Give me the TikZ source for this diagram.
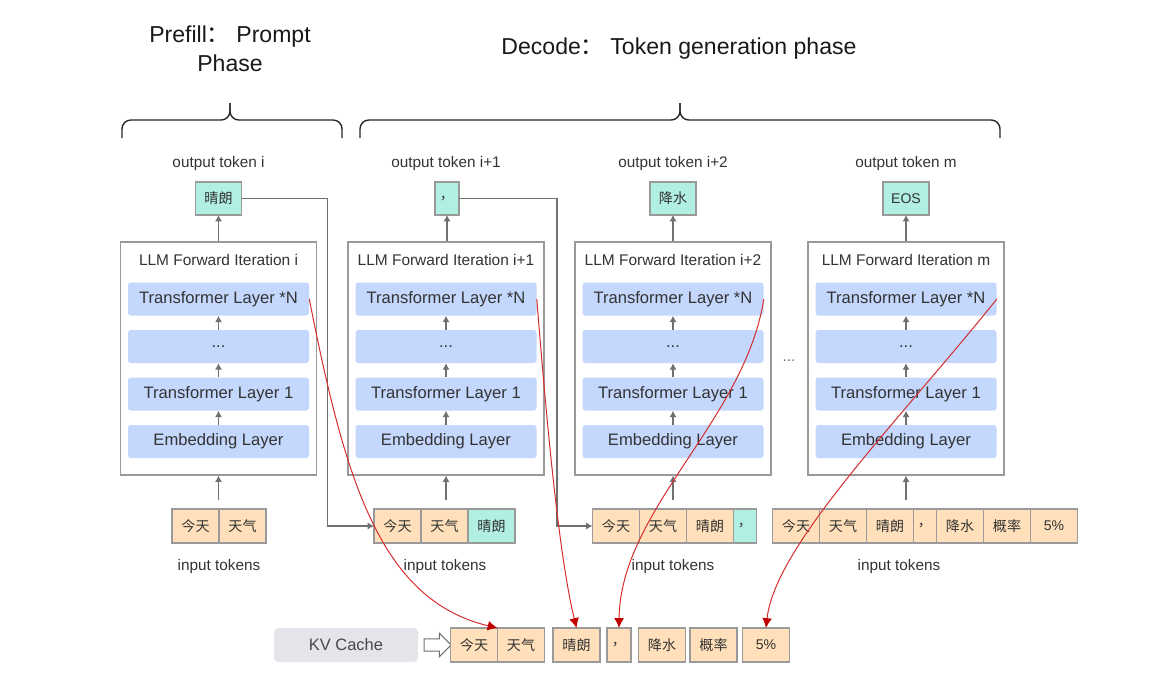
\documentclass[tikz,border=0pt]{standalone}
\usepackage{fontspec}
\setmainfont{Liberation Sans}
\newfontfamily\cjk{Noto Sans CJK SC}
\usepackage{xcolor}
\usepackage{tikz}
\usetikzlibrary{shapes,arrows,arrows.meta,positioning,calc}
\definecolor{tokorange}{HTML}{FFE0BA}
\definecolor{tokteal}{HTML}{B1EFE3}
\definecolor{layerblue}{HTML}{C4D7FD}
\definecolor{cachegray}{HTML}{E4E5EA}
\definecolor{linegray}{HTML}{9A9A9A}
\definecolor{arrowgray}{HTML}{707070}
\definecolor{textgray}{HTML}{333333}
\definecolor{kvred}{HTML}{D62B2B}
\definecolor{kvheadred}{HTML}{C00000}
\newcommand{\zh}[1]{{\cjk #1}}

\begin{document}
\begin{tikzpicture}[
    phase_text/.style={align=center, font=\fontsize{16.4}{20.6}\selectfont, text=black!90},
    phase_brace/.style={draw=black!85, line width=1pt, rounded corners=0.22cm},
    iter_box/.style={draw=linegray, fill=white, line width=0.8pt, minimum width=4.9cm, minimum height=5.825cm},
    iter_title/.style={font=\fontsize{11}{13}\selectfont, text=textgray},
    layer_box/.style={fill=layerblue, rounded corners=2pt, minimum width=4.525cm, minimum height=0.825cm, font=\fontsize{11.8}{14}\selectfont, text=textgray},
    tok/.style={draw=linegray, fill=tokorange, line width=0.9pt, minimum width=1.175cm, minimum height=0.85cm, inner sep=0pt, outer sep=0pt, font=\fontsize{10}{12}\selectfont, text=textgray},
    tok_new/.style={tok, fill=tokteal},
    out_box/.style={tok, fill=tokteal, minimum width=1.15cm, minimum height=0.825cm},
    small_text/.style={font=\fontsize{10.9}{13}\selectfont, text=textgray},
    cache_box/.style={fill=cachegray, rounded corners=3pt, minimum width=3.6cm, minimum height=0.85cm, font=\fontsize{11.7}{14}\selectfont, text=textgray!90},
    hollow_arrow/.style={single arrow, draw=arrowgray, fill=white, line width=0.8pt, inner sep=0pt, text height=0.14cm, text depth=0.14cm, minimum height=0.675cm, single arrow head extend=0.14cm},
    up_arrow/.style={-{Latex[length=4.5pt,width=5pt]}, draw=arrowgray, line width=0.8pt},
    kv_arrow/.style={-{Latex[length=7pt,width=7pt,color=kvheadred]}, draw=kvred, line width=0.7pt}
]
    \useasboundingbox (0,0) rectangle (29.05,-17.25);

    % Phases
    \node[phase_text] (prefill) at (5.75,-1.2125) {Prefill\zh{：} Prompt\\Phase};
    \node[phase_text] (decode) at (16.975,-1.225) {Decode\zh{：} Token generation phase};
    \draw[phase_brace] (3.05,-3.45) |- (5.75,-3.0) -- (5.75,-2.575);
    \draw[phase_brace] (8.55,-3.45) |- (5.75,-3.0) -- (5.75,-2.575);
    \draw[phase_brace] (9.0,-3.45) |- (17.0,-3.0) -- (17.0,-2.575);
    \draw[phase_brace] (25.0,-3.45) |- (17.0,-3.0) -- (17.0,-2.575);

    % Iteration i
    \node[iter_box] (iter1) at (5.4625,-8.9625) {};
    \node[iter_title] (title1) at (5.4625,-6.5) {LLM Forward Iteration i};
    \node[layer_box] (tln1) at (5.4625,-7.475) {Transformer Layer *N};
    \node[layer_box] (dots1) at (5.4625,-8.6625) {...};
    \node[layer_box] (tlone1) at (5.4625,-9.85) {Transformer Layer 1};
    \node[layer_box] (emb1) at (5.4625,-11.0375) {Embedding Layer};
    \node[out_box] (out1) at (5.4625,-4.9625) {\zh{晴朗}};
    \node[small_text] (outlbl1) at (5.4625,-4.0875) {output token i};
    \node[tok] (in1a) at (4.8875,-13.15) {\zh{今天}};
    \node[tok, right=0pt of in1a] (in1b) {\zh{天气}};
    \node[small_text] (inlbl1) at (5.475,-14.175) {input tokens};

    % Iteration i+1
    \node[iter_box] (iter2) at (11.15,-8.9625) {};
    \node[iter_title] (title2) at (11.15,-6.5) {LLM Forward Iteration i+1};
    \node[layer_box] (tln2) at (11.15,-7.475) {Transformer Layer *N};
    \node[layer_box] (dots2) at (11.15,-8.6625) {...};
    \node[layer_box] (tlone2) at (11.15,-9.85) {Transformer Layer 1};
    \node[layer_box] (emb2) at (11.15,-11.0375) {Embedding Layer};
    \node[out_box, minimum width=0.6cm] (out2) at (11.175,-4.9625) {\zh{，}};
    \node[small_text] (outlbl2) at (11.15,-4.0875) {output token i+1};
    \node[tok] (in2a) at (9.9375,-13.15) {\zh{今天}};
    \node[tok, right=0pt of in2a] (in2b) {\zh{天气}};
    \node[tok_new, right=0pt of in2b] (in2c) {\zh{晴朗}};
    \node[small_text] (inlbl2) at (11.125,-14.175) {input tokens};

    % Iteration i+2
    \node[iter_box] (iter3) at (16.825,-8.9625) {};
    \node[iter_title] (title3) at (16.825,-6.5) {LLM Forward Iteration i+2};
    \node[layer_box] (tln3) at (16.825,-7.475) {Transformer Layer *N};
    \node[layer_box] (dots3) at (16.825,-8.6625) {...};
    \node[layer_box] (tlone3) at (16.825,-9.85) {Transformer Layer 1};
    \node[layer_box] (emb3) at (16.825,-11.0375) {Embedding Layer};
    \node[out_box] (out3) at (16.825,-4.9625) {\zh{降水}};
    \node[small_text] (outlbl3) at (16.825,-4.0875) {output token i+2};
    \node[tok] (in3a) at (15.4,-13.15) {\zh{今天}};
    \node[tok, right=0pt of in3a] (in3b) {\zh{天气}};
    \node[tok, right=0pt of in3b] (in3c) {\zh{晴朗}};
    \node[tok_new, minimum width=0.575cm, right=0pt of in3c] (in3d) {\zh{，}};
    \node[small_text] (inlbl3) at (16.825,-14.175) {input tokens};

    \node[small_text, text=arrowgray] (gapdots) at (19.725,-9.025) {...};

    % Iteration m
    \node[iter_box] (iter4) at (22.65,-8.9625) {};
    \node[iter_title] (title4) at (22.65,-6.5) {LLM Forward Iteration m};
    \node[layer_box] (tln4) at (22.65,-7.475) {Transformer Layer *N};
    \node[layer_box] (dots4) at (22.65,-8.6625) {...};
    \node[layer_box] (tlone4) at (22.65,-9.85) {Transformer Layer 1};
    \node[layer_box] (emb4) at (22.65,-11.0375) {Embedding Layer};
    \node[out_box] (out4) at (22.65,-4.9625) {EOS};
    \node[small_text] (outlbl4) at (22.65,-4.0875) {output token m};
    \node[tok] (in4a) at (19.9,-13.15) {\zh{今天}};
    \node[tok, right=0pt of in4a] (in4b) {\zh{天气}};
    \node[tok, right=0pt of in4b] (in4c) {\zh{晴朗}};
    \node[tok, minimum width=0.575cm, right=0pt of in4c] (in4d) {\zh{，}};
    \node[tok, right=0pt of in4d] (in4e) {\zh{降水}};
    \node[tok, right=0pt of in4e] (in4f) {\zh{概率}};
    \node[tok, right=0pt of in4f] (in4g) {5\%};
    \node[small_text] (inlbl4) at (22.475,-14.175) {input tokens};

    % KV cache row
    \node[cache_box] (kvcache) at (8.65,-16.125) {KV Cache};
    \node[hollow_arrow] (kvarrow) at (10.8625,-16.125) {};
    \node[tok] (kva) at (11.85,-16.125) {\zh{今天}};
    \node[tok, right=0pt of kva] (kvb) {\zh{天气}};
    \node[tok] (kvc) at (14.4125,-16.125) {\zh{晴朗}};
    \node[tok, minimum width=0.6cm] (kvd) at (15.475,-16.125) {\zh{，}};
    \node[tok] (kve) at (16.55,-16.125) {\zh{降水}};
    \node[tok] (kvf) at (17.8375,-16.125) {\zh{概率}};
    \node[tok] (kvg) at (19.15,-16.125) {5\%};

    % Forward arrows
    \draw[up_arrow] (emb1) -- (tlone1);
    \draw[up_arrow] (tlone1) -- (dots1);
    \draw[up_arrow] (dots1) -- (tln1);
    \draw[up_arrow] (iter1) -- (out1);
    \draw[up_arrow, shorten <=0.22cm] (iter1.south |- in1a.north) -- (iter1.south);
    \draw[up_arrow] (emb2) -- (tlone2);
    \draw[up_arrow] (tlone2) -- (dots2);
    \draw[up_arrow] (dots2) -- (tln2);
    \draw[up_arrow] (iter2.north -| out2) -- (out2);
    \draw[up_arrow, shorten <=0.22cm] (iter2.south |- in2a.north) -- (iter2.south);
    \draw[up_arrow] (emb3) -- (tlone3);
    \draw[up_arrow] (tlone3) -- (dots3);
    \draw[up_arrow] (dots3) -- (tln3);
    \draw[up_arrow] (iter3) -- (out3);
    \draw[up_arrow, shorten <=0.22cm] (iter3.south |- in3a.north) -- (iter3.south);
    \draw[up_arrow] (emb4) -- (tlone4);
    \draw[up_arrow] (tlone4) -- (dots4);
    \draw[up_arrow] (dots4) -- (tln4);
    \draw[up_arrow] (iter4) -- (out4);
    \draw[up_arrow, shorten <=0.22cm] (iter4.south |- in4a.north) -- (iter4.south);

    % Output fed back as input
    \draw[up_arrow] (out1.east) -- ++(2.15,0) |- (in2a.west);
    \draw[up_arrow] (out2.east) -- ++(2.45,0) |- (in3a.west);

    % KV cache writes
    \draw[kv_arrow] (tln1.east) .. controls (8.625,-12.0) and (9.5,-15.0) .. (kva.north east);
    \draw[kv_arrow] (tln2.east) .. controls (13.7,-11.0) and (14.0,-14.0) .. (kvc.north);
    \draw[kv_arrow] (tln3.east) .. controls (18.625,-10.5) and (15.5,-12.75) .. (kvd.north);
    \draw[kv_arrow] (tln4.east) .. controls (22.5,-10.5) and (19.375,-13.625) .. (kvg.north);
\end{tikzpicture}
\end{document}
